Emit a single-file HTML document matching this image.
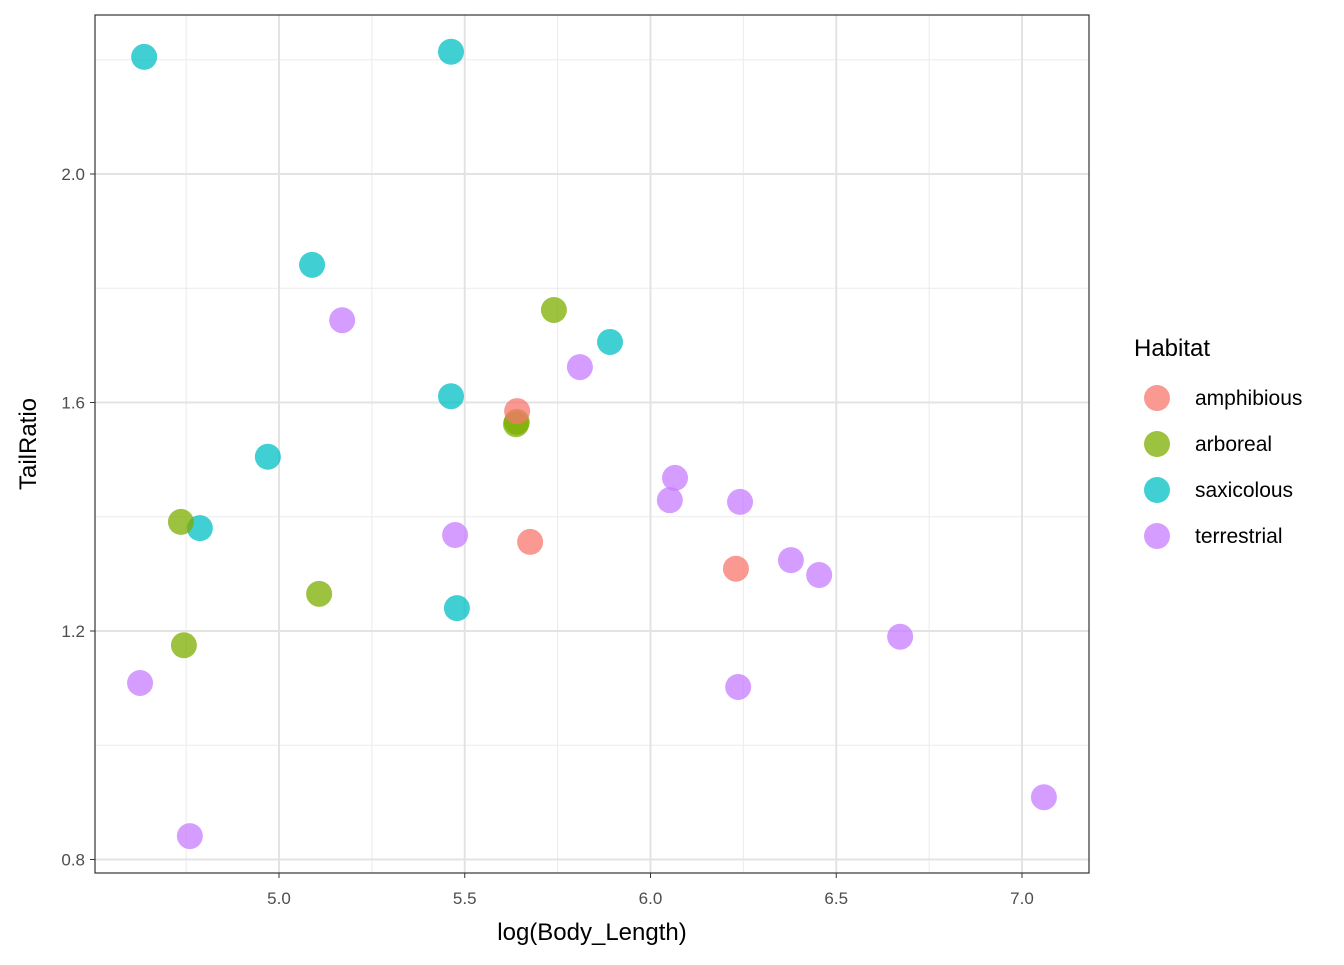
<!DOCTYPE html>
<html><head><meta charset="utf-8"><style>
body{margin:0;background:#fff;}
svg text{font-family:"Liberation Sans",Arial,sans-serif;}
</style></head><body>
<svg id="chart" width="1344" height="960" xmlns="http://www.w3.org/2000/svg">
<rect width="1344" height="960" fill="#fff"/>
<g id="grid"></g><g id="pts"></g><g id="axes"></g><g id="legend"></g>
</svg>
<script>
const habitats=["amphibious","arboreal","saxicolous","terrestrial"];
const colors=["#F8766D","#7CAE00","#00BFC4","#C77CFF"];
const xVals=[4.637,5.463,5.089,5.891,5.463,4.970,4.787,5.479,
 5.740,5.638,5.640,4.736,5.108,4.744,
 5.641,5.676,6.230,
 5.170,5.810,6.066,6.052,6.241,5.474,6.378,6.454,6.672,4.626,6.236,7.059,4.760];
const yVals=[2.205,2.214,1.841,1.706,1.611,1.505,1.380,1.240,
 1.762,1.562,1.566,1.391,1.265,1.175,
 1.585,1.356,1.309,
 1.744,1.662,1.468,1.429,1.426,1.368,1.324,1.298,1.190,1.109,1.102,0.909,0.841];
const groups=[2,2,2,2,2,2,2,2,1,1,1,1,1,1,0,0,0,3,3,3,3,3,3,3,3,3,3,3,3,3];
const xTicks=[5.0,5.5,6.0,6.5,7.0];
const xMinor=[4.75,5.25,5.75,6.25,6.75];
const yTicks=[0.8,1.2,1.6,2.0];
const yMinor=[1.0,1.4,1.8,2.2];
const L=95,T=15,R=1089,B=873;
const sx=v=>279+(v-5)*371.5;
const sy=v=>174-(v-2)*571.25;
const NS="http://www.w3.org/2000/svg";
function mk(p,t,a){const e=document.createElementNS(NS,t);for(const k in a)e.setAttribute(k,a[k]);p.appendChild(e);return e;}
const grid=document.getElementById('grid'),pts=document.getElementById('pts'),axes=document.getElementById('axes'),leg=document.getElementById('legend');
xMinor.forEach(v=>{const l=mk(grid,'line',{x1:sx(v),x2:sx(v),y1:T,y2:B,stroke:'#ebebeb','stroke-width':1});

});
yMinor.forEach(v=>{const l=mk(grid,'line',{x1:L,x2:R,y1:sy(v),y2:sy(v),stroke:'#ebebeb','stroke-width':1});

});
xTicks.forEach(v=>{const l=mk(grid,'line',{x1:sx(v),x2:sx(v),y1:T,y2:B,stroke:'#e3e3e3','stroke-width':2});


mk(axes,'line',{x1:sx(v),x2:sx(v),y1:B,y2:B+5,stroke:'#333','stroke-width':1});
const t=mk(axes,'text',{x:sx(v),y:B+31,'text-anchor':'middle','font-size':17,fill:'#4d4d4d'});t.textContent=v.toFixed(1);

});
yTicks.forEach(v=>{const l=mk(grid,'line',{x1:L,x2:R,y1:sy(v),y2:sy(v),stroke:'#e3e3e3','stroke-width':2});


mk(axes,'line',{x1:L-5,x2:L,y1:sy(v),y2:sy(v),stroke:'#333','stroke-width':1});
const t=mk(axes,'text',{x:L-10,y:sy(v)+6,'text-anchor':'end','font-size':17,fill:'#4d4d4d'});t.textContent=v.toFixed(1);

});
xVals.forEach((x,i)=>{const c=mk(pts,'circle',{cx:sx(x),cy:sy(yVals[i]),r:13,fill:colors[groups[i]],'fill-opacity':0.75});

});
const fr=mk(axes,'rect',{x:L,y:T,width:R-L,height:B-T,fill:'none',stroke:'#333','stroke-width':1.2});


const xt=mk(axes,'text',{x:592,y:940,'text-anchor':'middle','font-size':24,fill:'#000'});xt.textContent='log(Body_Length)';


const yt=mk(axes,'text',{x:0,y:0,'text-anchor':'middle','font-size':24,fill:'#000',transform:'translate(36,444) rotate(-90)'});yt.textContent='TailRatio';


const lt=mk(leg,'text',{x:1134,y:356,'font-size':24,fill:'#000'});lt.textContent='Habitat';


habitats.forEach((h,i)=>{const y=398+i*46;
const c=mk(leg,'circle',{cx:1157,cy:y,r:13,fill:colors[i],'fill-opacity':0.75});


const t=mk(leg,'text',{x:1195,y:y+7,'font-size':21,fill:'#000'});t.textContent=h;

});
</script>
</body></html>
